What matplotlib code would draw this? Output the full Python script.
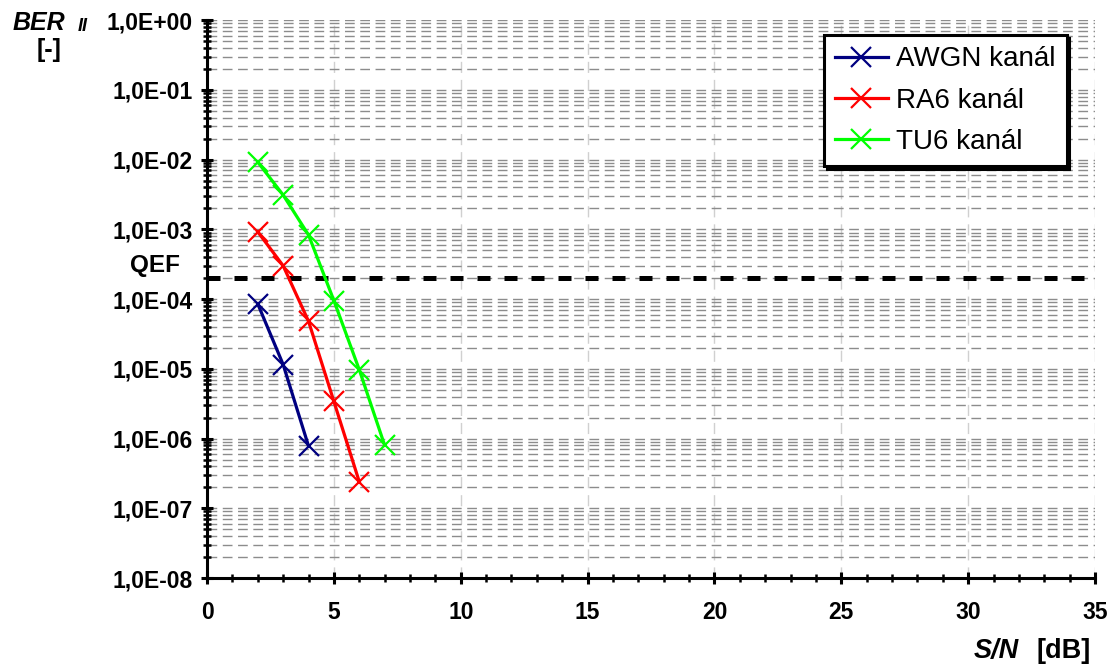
import matplotlib.pyplot as plt
from matplotlib.ticker import LogLocator, MultipleLocator, NullFormatter
import numpy as np

plt.rcParams['font.family'] = ['Liberation Sans', 'DejaVu Sans']

# data
snr_awgn = [2, 3, 4]
ber_awgn = [8.5e-5, 1.15e-5, 7.8e-7]
snr_ra6 = [2, 3, 4, 5, 6]
ber_ra6 = [9.2e-4, 3.0e-4, 4.8e-5, 3.4e-6, 2.4e-7]
snr_tu6 = [2, 3, 4, 5, 6, 7]
ber_tu6 = [9.2e-3, 3.1e-3, 8.3e-4, 9.5e-5, 9.7e-6, 8.0e-7]
qef = 2e-4

labels = ['AWGN kanál', 'RA6 kanál', 'TU6 kanál']
colors = ['#000080', '#ff0000', '#00ff00']

fig = plt.figure(figsize=(11.09, 6.70), dpi=100)
ax = fig.add_axes([0.1867, 0.1373, 0.8007, 0.8327])

series = [(snr_awgn, ber_awgn), (snr_ra6, ber_ra6), (snr_tu6, ber_tu6)]
for (x, y), lab, c in zip(series, labels, colors):
    ax.plot(x, y, color=c, lw=2.3, marker='x', markersize=15, mew=1.6,
            label=lab, zorder=5)

ax.axhline(qef, color='black', lw=3.6, dashes=(2.6, 2.8), zorder=4)

ax.set_yscale('log')
ax.set_ylim(1e-8, 1)
ax.set_xlim(0, 35)

ax.yaxis.set_minor_locator(LogLocator(base=10, subs=np.arange(2, 10), numticks=20))
ax.yaxis.set_minor_formatter(NullFormatter())
ax.set_yticks([10.0 ** k for k in range(-8, 1)])
ax.set_yticklabels(['1,0E%s%02d' % ('+' if k >= 0 else '-', abs(k)) for k in range(-8, 1)])

ax.xaxis.set_major_locator(MultipleLocator(5))
ax.xaxis.set_minor_locator(MultipleLocator(1))

for s in ['top', 'right']:
    ax.spines[s].set_visible(False)
for s in ['left', 'bottom']:
    ax.spines[s].set_linewidth(2.2)

ax.tick_params(which='major', direction='inout', length=9, width=2.2,
               labelsize=16.5, pad=6)
ax.tick_params(which='minor', direction='inout', length=6, width=1.8)
for t in ax.get_xticklabels() + ax.get_yticklabels():
    t.set_fontweight('bold')
ax.tick_params(axis='x', pad=12)

# grid
ax.grid(True, axis='y', which='both', color='#8c8c8c', lw=1.0, dashes=(7, 4))
ax.grid(True, axis='x', which='major', color='#d0d0d0', lw=1.0, dashes=(8, 5))
ax.set_axisbelow(True)

leg = ax.legend(loc='upper right', bbox_to_anchor=(0.968, 0.973), fontsize=20,
                frameon=True, fancybox=False, shadow={'color': 'black', 'alpha': 1},
                edgecolor='black', handlelength=1.9, handletextpad=0.3,
                borderpad=0.4, labelspacing=0.55, borderaxespad=0)
leg.get_frame().set_linewidth(2.2)

# axis titles
fig.text(0.011, 0.966, 'BER', fontsize=18, fontweight='bold', style='italic',
         ha='left', va='center')
fig.text(0.070, 0.961, 'II', fontsize=13, fontweight='bold', style='italic',
         ha='left', va='center')
fig.text(0.033, 0.926, '[-]', fontsize=18, fontweight='bold', ha='left', va='center')
fig.text(0.117, 0.603, 'QEF', fontsize=17.5, fontweight='bold', ha='left', va='center')
fig.text(0.878, 0.028, 'S/N', fontsize=19.5, fontweight='bold', style='italic',
         ha='left', va='center')
fig.text(0.935, 0.028, '[dB]', fontsize=19.5, fontweight='bold', ha='left', va='center')

fig.savefig('out.png', dpi=100)
